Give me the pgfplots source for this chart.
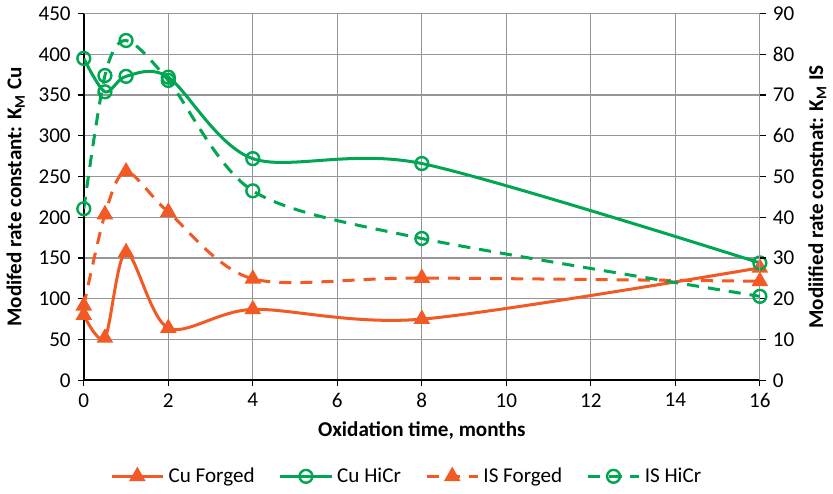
\documentclass[border=0pt]{standalone}
\usepackage{fontspec}
\setmainfont{Carlito}
\usepackage{pgfplots}
\pgfplotsset{compat=1.18}
\definecolor{corange}{RGB}{241,90,36}
\definecolor{cgreen}{RGB}{0,166,81}
\definecolor{cgrid}{RGB}{150,150,150}
\begin{document}
\begin{tikzpicture}
\pgfplotsset{
  every axis/.append style={
    scale only axis, width=336.5pt, height=182.5pt,
    xmin=0, xmax=16,
    font=\fontsize{10.5}{12}\selectfont,
    /pgf/number format/assume math mode=true,
    tick style={black, line width=0.6pt},
    major tick length=3pt,
    tick align=outside,
  },
  cuf/.style={corange, line width=1.5pt, smooth, mark=triangle*, mark size=3.3pt, mark options={solid, fill=corange}},
  cuh/.style={cgreen, line width=1.5pt, smooth, mark=o, mark size=3.2pt, mark options={solid, line width=1.2pt}},
  isf/.style={corange, line width=1.5pt, smooth, dash pattern=on 6pt off 4.5pt, mark=triangle*, mark size=3.3pt, mark options={solid, fill=corange}},
  ish/.style={cgreen, line width=1.5pt, smooth, dash pattern=on 6pt off 4.5pt, mark=o, mark size=3.2pt, mark options={solid, line width=1.2pt}},
  legend image code/.code={\draw[mark repeat=2, mark phase=2] plot coordinates {(0cm,0cm) (0.45cm,0cm) (0.9cm,0cm)};},
}
\begin{axis}[
  ymin=0, ymax=450, ytick={0,50,...,450},
  xtick={0,2,...,16},
  axis x line*=bottom, axis y line*=left,
  grid=major, grid style={cgrid, line width=0.6pt},
  axis line style={black, line width=0.9pt, -},
  xlabel={\bfseries Oxidation time, months},
  ylabel={\bfseries Modifed rate constant: K\textsubscript{M} Cu},
  legend columns=4,
  legend style={draw=none, at={(0.479,-0.262)}, anchor=center, font=\fontsize{10.5}{12}\selectfont,
    /tikz/every even column/.append style={column sep=10pt}},
]
\addplot[cuf] coordinates {(0,80) (0.5,52) (1,157) (2,64) (4,87) (8,75) (16,138)};
\addlegendentry{Cu Forged}
\addplot[cuh] coordinates {(0,395) (0.5,354) (1,373) (2,372) (4,272) (8,266) (16,144)};
\addlegendentry{Cu HiCr}
\addlegendimage{isf}
\addlegendentry{IS Forged}
\addlegendimage{ish}
\addlegendentry{IS HiCr}
\end{axis}
\begin{axis}[
  ymin=0, ymax=90, ytick={0,10,...,90},
  axis x line=none, axis y line*=right,
  axis line style={cgrid, line width=0.6pt, -},
  ylabel={\bfseries Modiified rate constnat: K\textsubscript{M} IS},
]
\addplot[isf] coordinates {(0,18.3) (0.5,40.7) (1,51.2) (2,41.3) (4,24.9) (8,25.1) (16,24.3)};
\addplot[ish] coordinates {(0,42.1) (0.5,74.8) (1,83.4) (2,73.6) (4,46.5) (8,34.8) (16,20.6)};
\end{axis}
\end{tikzpicture}
\end{document}
